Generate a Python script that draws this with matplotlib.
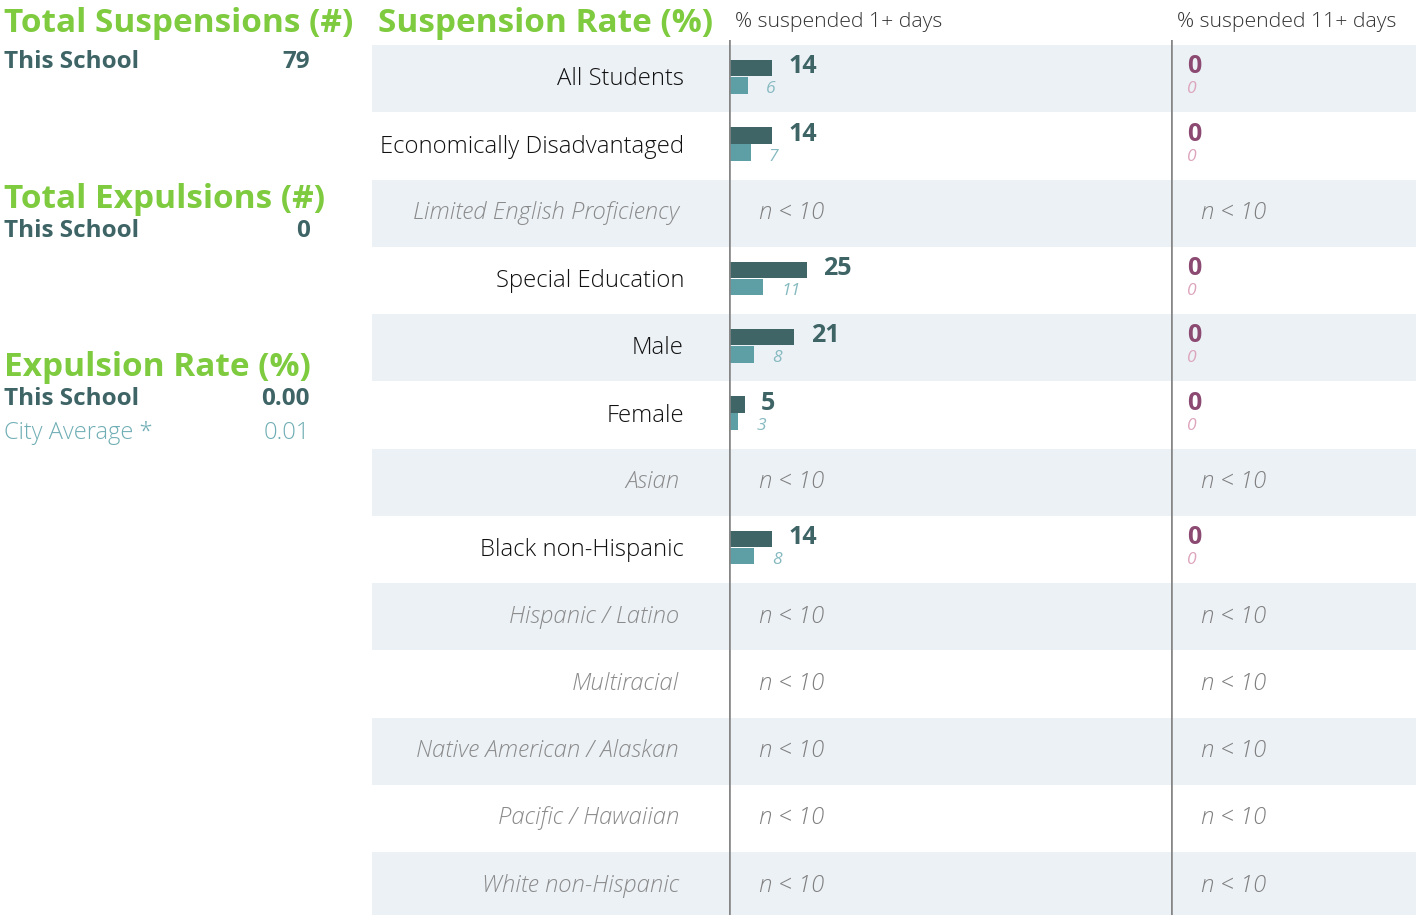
import numpy as np
import matplotlib
matplotlib.use("Agg")
import matplotlib.pyplot as plt
import matplotlib.transforms as mtrans

# ---------------- data ----------------
categories = ["All Students", "Economically Disadvantaged", "Limited English Proficiency",
              "Special Education", "Male", "Female", "Asian", "Black non-Hispanic",
              "Hispanic / Latino", "Multiracial", "Native American / Alaskan",
              "Pacific / Hawaiian", "White non-Hispanic"]
nan = np.nan
susp1_school = [14, 14, nan, 25, 21, 5, nan, 14, nan, nan, nan, nan, nan]
susp1_city = [6, 7, nan, 11, 8, 3, nan, 8, nan, nan, nan, nan, nan]
susp11_school = [0, 0, nan, 0, 0, 0, nan, 0, nan, nan, nan, nan, nan]
susp11_city = [0, 0, nan, 0, 0, 0, nan, 0, nan, nan, nan, nan, nan]

total_suspensions = "79"
total_expulsions = "0"
expulsion_rate_school = "0.00"
expulsion_rate_city = "0.01"

# ---------------- style ----------------
GREEN = "#7ECB3F"
DARK = "#3E6466"
BAR_DARK = "#3F6566"
BAR_LIGHT = "#5E9FA5"
LIGHT_LBL = "#86BAC0"
PURPLE = "#8C4A72"
PINK = "#DDA5BC"
STRIPE = "#ECF1F6"
VLINE = "#868686"
GRAY = "#7F7F7F"
CITY = "#6FAEB4"

W, H = 1416, 915
fig = plt.figure(figsize=(W / 100, H / 100), dpi=100)
fig.patch.set_facecolor("white")

def fx(px):
    return px / W

def fy(py):
    return 1 - py / H

ROW_PX = 67.25
TOP_PX = 40
FIRST_ROW_PX = 45
BOT_PX = FIRST_ROW_PX + 13 * ROW_PX
ytop = -(FIRST_ROW_PX - TOP_PX) / ROW_PX
n = len(categories)

def make_ax(x0, x1):
    ax = fig.add_axes([fx(x0), fy(BOT_PX), fx(x1) - fx(x0), (BOT_PX - TOP_PX) / H])
    ax.set_ylim(n, ytop)
    ax.axis("off")
    ax.patch.set_alpha(0)
    return ax

ax_bg = make_ax(372, 1416)
ax_bg.set_xlim(0, 1)
for i in range(0, n, 2):
    ax_bg.axhspan(i, i + 1, color=STRIPE, lw=0, zorder=0)

PX_PER_UNIT = 3.1
ax1 = make_ax(729, 1171)
ax1.set_xlim(0, 442 / PX_PER_UNIT)
ax2 = make_ax(1171, 1416)
ax2.set_xlim(0, 245 / PX_PER_UNIT)

for ax in (ax1, ax2):
    ax.axvline(0, color=VLINE, lw=1.9, zorder=3)

y = np.arange(n)
s1 = np.array(susp1_school, float)
c1 = np.array(susp1_city, float)
ax1.barh(y + 0.345, np.nan_to_num(s1), height=0.245, color=BAR_DARK, zorder=2)
ax1.barh(y + 0.600, np.nan_to_num(c1), height=0.245, color=BAR_LIGHT, zorder=2)

LBL_FONT = ["Open Sans", "DejaVu Sans"]
HEAD_FONT = ["Open Sans", "DejaVu Sans"]

CAT_SIZE = 17.2
VAL_SIZE = 18
SMALL_SIZE = 12.6

off_dark = mtrans.offset_copy(ax1.transData, fig=fig, x=16.5 * 0.72, units="points")
off_light = mtrans.offset_copy(ax1.transData, fig=fig, x=18 * 0.72, units="points")
off2 = mtrans.offset_copy(ax2.transData, fig=fig, x=16 * 0.72, units="points")
off_n1 = mtrans.offset_copy(ax1.transData, fig=fig, x=30 * 0.72, units="points")
off_n2 = mtrans.offset_copy(ax2.transData, fig=fig, x=30 * 0.72, units="points")

lbl_tr = mtrans.blended_transform_factory(fig.transFigure, ax_bg.transData)

for i in range(n):
    if np.isnan(s1[i]):
        ax_bg.text(fx(679), i + 0.5, categories[i], transform=lbl_tr, ha="right", va="center",
                   fontsize=CAT_SIZE, style="italic", color="#8A8A8A", family=LBL_FONT,
                   fontweight="light")
        for ax, tr in ((ax1, off_n1), (ax2, off_n2)):
            ax.text(0, i + 0.5, "n < 10", transform=tr, ha="left", va="center",
                    fontsize=CAT_SIZE, style="italic", color=GRAY, family=LBL_FONT,
                    fontweight="light")
    else:
        ax_bg.text(fx(684), i + 0.51, categories[i], transform=lbl_tr, ha="right", va="center",
                   fontsize=CAT_SIZE, color="#111111", family=LBL_FONT, fontweight="light")
        ax1.text(s1[i], i + 0.325, f"{s1[i]:.0f}", transform=off_dark, ha="left", va="center",
                 fontsize=VAL_SIZE, fontweight="bold", color=DARK, family=HEAD_FONT)
        ax1.text(c1[i], i + 0.66, f"{c1[i]:.0f}", transform=off_light, ha="left", va="center",
                 fontsize=SMALL_SIZE, style="italic", color=LIGHT_LBL, family=LBL_FONT,
                 fontweight="normal")
        ax2.text(susp11_school[i], i + 0.325, f"{susp11_school[i]:.0f}", transform=off2,
                 ha="left", va="center", fontsize=VAL_SIZE, fontweight="bold", color=PURPLE,
                 family=HEAD_FONT)
        ax2.text(susp11_city[i], i + 0.66, f"{susp11_city[i]:.0f}", transform=off2,
                 ha="left", va="center", fontsize=SMALL_SIZE, style="italic", color=PINK,
                 family=LBL_FONT, fontweight="normal")

fig.text(fx(735), fy(22), "% suspended 1+ days", ha="left", va="center", fontsize=15.3,
         color="#333333", family=LBL_FONT, fontweight="light")
fig.text(fx(1177), fy(22), "% suspended 11+ days", ha="left", va="center", fontsize=15.3,
         color="#333333", family=LBL_FONT, fontweight="light")

def heading(px, py, s):
    fig.text(fx(px), fy(py), s, ha="left", va="center", fontsize=24, fontweight="bold",
             color=GREEN, family=HEAD_FONT)

heading(4, 24, "Total Suspensions (#)")
heading(378, 24, "Suspension Rate (%)")
heading(4, 199, "Total Expulsions (#)")
heading(4, 367, "Expulsion Rate (%)")

def row(py, left, right, color, bold=True):
    kw = dict(color=color, family=HEAD_FONT, va="center")
    if bold:
        kw.update(fontweight="bold", fontsize=17.5)
    else:
        kw.update(fontweight="light", fontsize=17)
    fig.text(fx(4), fy(py), left, ha="left", **kw)
    fig.text(fx(310), fy(py), right, ha="right", **kw)

row(62, "This School", total_suspensions, DARK)
row(231, "This School", total_expulsions, DARK)
row(399, "This School", expulsion_rate_school, DARK)
row(433, "City Average *", expulsion_rate_city, CITY, bold=False)

fig.savefig("out.png", dpi=100)
